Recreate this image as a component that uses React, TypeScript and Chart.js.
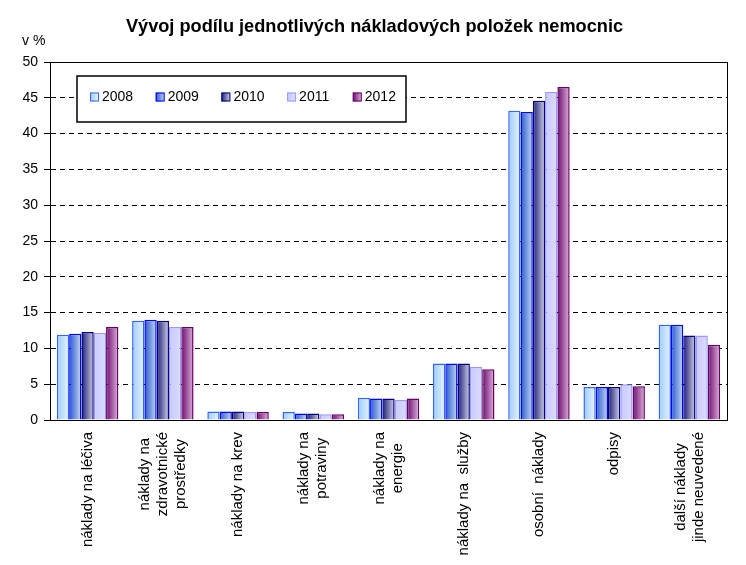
import React, { useEffect, useRef } from "react";
import { Chart, registerables } from "chart.js";

Chart.register(...registerables);

// ---------- data ----------
const categoryLines: string[][] = [
  ["náklady na léčiva"],
  ["náklady na", "zdravotnické", "prostředky"],
  ["náklady na krev"],
  ["náklady na", "potraviny"],
  ["náklady na", "energie"],
  ["náklady na  služby"],
  ["osobní  náklady"],
  ["odpisy"],
  ["další náklady", "jinde neuvedené"],
];
const years = ["2008", "2009", "2010", "2011", "2012"];
const values2008 = [11.9, 13.85, 1.2, 1.1, 3.1, 7.9, 43.2, 4.6, 13.3];
const values2009 = [12.05, 14.0, 1.2, 0.9, 3.0, 7.9, 43.0, 4.6, 13.3];
const values2010 = [12.3, 13.85, 1.2, 0.9, 3.0, 7.9, 44.6, 4.6, 11.8];
const values2011 = [12.2, 13.0, 1.1, 0.8, 2.8, 7.4, 45.8, 5.0, 11.8];
const values2012 = [13.0, 13.0, 1.1, 0.8, 3.0, 7.1, 46.5, 4.7, 10.5];
const seriesValues = [values2008, values2009, values2010, values2011, values2012];

const title = "Vývoj podílu jednotlivých nákladových položek nemocnic";
const unitLabel = "v %";
const yMin = 0;
const yMax = 50;
const yStep = 5;

// ---------- styles ----------
const FONT = "'Liberation Sans', Arial, Helvetica, sans-serif";
const seriesStyles = [
  { border: "#3366FF", from: "#9CCBFF", to: "#E8F4FF" },
  { border: "#0000FF", from: "#2858D0", to: "#C6D8F2" },
  { border: "#000080", from: "#1C1C78", to: "#D2D2E6" },
  { border: "#9999FF", from: "#C8C8FF", to: "#DCDCFF" },
  { border: "#660066", from: "#6B0B6B", to: "#DEB2DE" },
];

const gradientPlugin = {
  id: "barGradient",
  beforeDatasetsDraw(chart: any) {
    const ctx = chart.ctx;
    chart.data.datasets.forEach((_ds: any, di: number) => {
      const meta = chart.getDatasetMeta(di);
      const st = seriesStyles[di];
      meta.data.forEach((el: any) => {
        const { x, width } = el.getProps(["x", "width"], true);
        const left = x - width / 2;
        const g = ctx.createLinearGradient(left, 0, left + width, 0);
        g.addColorStop(0, st.from);
        g.addColorStop(1, st.to);
        el.options.backgroundColor = g;
      });
    });
  },
};

const decorPlugin = {
  id: "decor",
  afterDatasetsDraw(chart: any) {
    const ctx = chart.ctx;
    const ca = chart.chartArea;
    ctx.save();
    // plot frame
    ctx.strokeStyle = "#000";
    ctx.lineWidth = 1;
    ctx.setLineDash([]);
    ctx.strokeRect(
      Math.round(ca.left) + 0.5,
      Math.round(ca.top) + 0.5,
      Math.round(ca.right) - Math.round(ca.left),
      Math.round(ca.bottom) - Math.round(ca.top)
    );

    // category labels (rotated, centred lines)
    const xs = chart.scales.x;
    ctx.fillStyle = "#000";
    ctx.font = `15px ${FONT}`;
    const lh = 18;
    const top = ca.bottom + 12;
    categoryLines.forEach((lines, i) => {
      const px = xs.getPixelForValue(i);
      const maxW = Math.max(...lines.map((l) => ctx.measureText(l).width));
      const cy = top + maxW / 2;
      lines.forEach((line, j) => {
        const lx = px + (j - (lines.length - 1) / 2) * lh;
        ctx.save();
        ctx.translate(lx, cy);
        ctx.rotate(-Math.PI / 2);
        ctx.textAlign = "center";
        ctx.textBaseline = "middle";
        ctx.fillText(line, 0, 0);
        ctx.restore();
      });
    });

    // legend
    const lx0 = ca.left + 27;
    const ly0 = ca.top + 14;
    const lw = 329;
    const lhgt = 46;
    ctx.fillStyle = "#fff";
    ctx.fillRect(lx0, ly0, lw, lhgt);
    ctx.strokeStyle = "#000";
    ctx.lineWidth = 1.5;
    ctx.strokeRect(lx0, ly0, lw, lhgt);
    ctx.font = `14px ${FONT}`;
    ctx.textBaseline = "middle";
    ctx.textAlign = "left";
    chart.data.datasets.forEach((ds: any, k: number) => {
      const st = seriesStyles[k];
      const sx = lx0 + 13 + k * 65.7;
      const sy = ly0 + 16.5;
      const s = 9;
      const g = ctx.createLinearGradient(sx, 0, sx + s, 0);
      g.addColorStop(0, st.from);
      g.addColorStop(1, st.to);
      ctx.fillStyle = g;
      ctx.fillRect(sx, sy, s, s);
      ctx.strokeStyle = st.border;
      ctx.lineWidth = 1;
      ctx.strokeRect(sx + 0.5, sy + 0.5, s - 1, s - 1);
      ctx.fillStyle = "#000";
      ctx.fillText(ds.label, sx + 12, sy + s / 2 + 0.5);
    });
    ctx.restore();
  },
};

export default function App() {
  const canvasRef = useRef<HTMLCanvasElement | null>(null);

  useEffect(() => {
    const canvas = canvasRef.current;
    if (!canvas) return;
    Chart.defaults.font.family = FONT;
    Chart.defaults.color = "#000";

    const chart = new Chart(canvas, {
      type: "bar",
      data: {
        labels: categoryLines.map((l) => l.join(" ")),
        datasets: years.map((y, i) => ({
          label: y,
          data: seriesValues[i],
          backgroundColor: () => seriesStyles[i].to,
          borderColor: seriesStyles[i].border,
          borderWidth: 1.5,
          categoryPercentage: 0.817,
          barPercentage: 1.0,
        })),
      },
      options: {
        responsive: false,
        animation: false,
        events: [],
        layout: { padding: { left: 22, right: 19, top: 0, bottom: 0 } },
        plugins: {
          legend: { display: false },
          tooltip: { enabled: false },
          title: {
            display: true,
            text: title,
            color: "#000",
            font: { family: FONT, size: 18.2, weight: "bold", lineHeight: 1 },
            padding: { top: 18, bottom: 0 },
          },
          subtitle: {
            display: true,
            text: unitLabel,
            align: "start",
            color: "#000",
            font: { family: FONT, size: 14, lineHeight: 0.7 },
            padding: { top: 0, bottom: 16 },
          },
        },
        scales: {
          x: {
            type: "category",
            offset: true,
            grid: { display: false, drawTicks: false },
            border: { display: true, color: "#000", width: 1 },
            ticks: { display: false },
            afterFit(scale: any) {
              scale.height = 145;
            },
          },
          y: {
            min: yMin,
            max: yMax,
            ticks: {
              stepSize: yStep,
              color: "#000",
              padding: 6,
              font: { family: FONT, size: 14 },
            },
            grid: {
              color: "#000",
              lineWidth: 1,
              drawTicks: true,
              tickLength: 6,
              tickColor: "#000",
              tickWidth: 1,
              tickBorderDash: [],
            },
            border: { display: true, color: "#000", width: 1, dash: [5, 4] },
            afterFit(scale: any) {
              scale.width = 28;
            },
          },
        },
      },
      plugins: [gradientPlugin, decorPlugin],
    } as any);

    return () => chart.destroy();
  }, []);

  return (
    <div style={{ position: "absolute", left: 0, top: 0, width: 746, height: 565, background: "#fff" }}>
      <canvas ref={canvasRef} width={746} height={565} style={{ width: 746, height: 565, display: "block" }} />
    </div>
  );
}
